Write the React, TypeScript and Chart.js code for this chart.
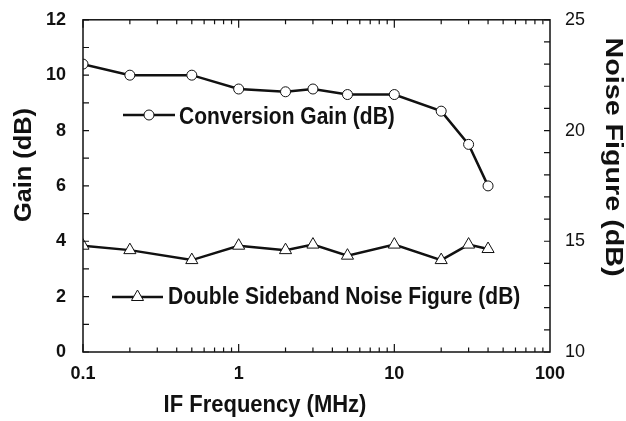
import React, { useEffect, useRef } from 'react';
import { Chart, registerables } from 'chart.js';

Chart.register(...registerables);

// ---- data ----
const freqsMHz = [0.1, 0.2, 0.5, 1, 2, 3, 5, 10, 20, 30, 40];
const conversionGainDb = [10.4, 10.0, 10.0, 9.5, 9.4, 9.5, 9.3, 9.3, 8.7, 7.5, 6.0];
const noiseFigureDb = [14.8, 14.6, 14.15, 14.8, 14.6, 14.85, 14.35, 14.85, 14.15, 14.85, 14.65];
const xTickValues = [0.1, 1, 10, 100];
const gainTickValues = [0, 2, 4, 6, 8, 10, 12];
const nfTickValues = [10, 15, 20, 25];
const gainLabel = 'Conversion Gain (dB)';
const nfLabel = 'Double Sideband Noise Figure (dB)';
const xTitle = 'IF Frequency (MHz)';
const yTitle = 'Gain (dB)';
const y1Title = 'Noise Figure (dB)';

const FONT = '"Liberation Sans", Arial, Helvetica, sans-serif';
const INK = '#111';

const decorPlugin = {
  id: 'decor',
  afterDraw(chart: any) {
    const { ctx, chartArea: a, scales } = chart;
    const xs = scales.x, ys = scales.y, y1 = scales.y1;
    ctx.save();
    // frame
    ctx.strokeStyle = INK;
    ctx.lineWidth = 1.5;
    ctx.strokeRect(a.left, a.top, a.right - a.left, a.bottom - a.top);

    // inward tick marks
    ctx.lineWidth = 1.2;
    ctx.beginPath();
    for (let d = 0; d < xTickValues.length - 1; d++) {
      const dec = xTickValues[d];
      for (let m = 1; m <= 9; m++) {
        const v = dec * m;
        const px = xs.getPixelForValue(v);
        const L = m === 1 ? 8 : 4.5;
        ctx.moveTo(px, a.bottom);
        ctx.lineTo(px, a.bottom - L);
        ctx.moveTo(px, a.top);
        ctx.lineTo(px, a.top + L);
      }
    }
    for (let v = ys.min; v <= ys.max; v += 1) {
      const py = ys.getPixelForValue(v);
      ctx.moveTo(a.left, py);
      ctx.lineTo(a.left + 6, py);
    }
    for (let v = y1.min; v <= y1.max; v += 1) {
      const py = y1.getPixelForValue(v);
      ctx.moveTo(a.right, py);
      ctx.lineTo(a.right - 6, py);
    }
    ctx.stroke();

    // axis titles
    ctx.fillStyle = INK;
    ctx.font = `bold 22px ${FONT}`;
    ctx.textAlign = 'center';
    ctx.textBaseline = 'alphabetic';
    ctx.save();
    ctx.translate(265, 412);
    ctx.scale(1, 1.1);
    ctx.fillText(xTitle, 0, 0);
    ctx.restore();

    // left title (rotated -90)
    ctx.save();
    ctx.translate(25, 165);
    ctx.rotate(-Math.PI / 2);
    let w = ctx.measureText(yTitle).width;
    ctx.scale(114 / w, 1.05);
    ctx.textBaseline = 'middle';
    ctx.fillText(yTitle, 0, 0);
    ctx.restore();

    // right title (rotated +90)
    ctx.save();
    ctx.translate(612, 157);
    ctx.rotate(Math.PI / 2);
    w = ctx.measureText(y1Title).width;
    ctx.scale(239 / w, 1.05);
    ctx.textBaseline = 'middle';
    ctx.fillText(y1Title, 0, 0);
    ctx.restore();

    // legends
    const drawLegend = (x1: number, x2: number, y: number, marker: string, text: string, tx: number, ty: number) => {
      ctx.strokeStyle = INK;
      ctx.lineWidth = 2.5;
      ctx.beginPath();
      ctx.moveTo(x1, y);
      ctx.lineTo(x2, y);
      ctx.stroke();
      const cx = (x1 + x2) / 2;
      ctx.lineWidth = 1;
      ctx.fillStyle = '#fff';
      ctx.beginPath();
      if (marker === 'circle') {
        ctx.arc(cx, y, 5, 0, Math.PI * 2);
      } else {
        const r = 7;
        ctx.moveTo(cx, y - r);
        ctx.lineTo(cx + r * Math.sin((2 * Math.PI) / 3), y - r * Math.cos((2 * Math.PI) / 3));
        ctx.lineTo(cx + r * Math.sin((4 * Math.PI) / 3), y - r * Math.cos((4 * Math.PI) / 3));
        ctx.closePath();
      }
      ctx.fill();
      ctx.stroke();
      ctx.fillStyle = INK;
      ctx.font = `bold 21px ${FONT}`;
      ctx.textAlign = 'left';
      ctx.textBaseline = 'alphabetic';
      ctx.save();
      ctx.translate(tx, ty);
      ctx.scale(1, 1.12);
      ctx.fillText(text, 0, 0);
      ctx.restore();
    };
    drawLegend(123, 175, 115, 'circle', gainLabel, 179, 123.5);
    drawLegend(112, 163, 297, 'triangle', nfLabel, 168, 304);

    ctx.restore();
  },
};

export default function App() {
  const ref = useRef<HTMLCanvasElement | null>(null);

  useEffect(() => {
    document.body.style.margin = '0';
    const canvas = ref.current;
    if (!canvas) return;
    const chart = new Chart(canvas, {
      type: 'line',
      data: {
        datasets: [
          {
            label: gainLabel,
            data: freqsMHz.map((f, i) => ({ x: f, y: conversionGainDb[i] })),
            yAxisID: 'y',
            borderColor: INK,
            borderWidth: 2.5,
            pointStyle: 'circle',
            pointRadius: 5,
            pointBorderWidth: 1,
            pointBackgroundColor: '#fff',
            pointBorderColor: INK,
            tension: 0,
          },
          {
            label: nfLabel,
            data: freqsMHz.map((f, i) => ({ x: f, y: noiseFigureDb[i] })),
            yAxisID: 'y1',
            borderColor: INK,
            borderWidth: 2.5,
            pointStyle: 'triangle',
            pointRadius: 7,
            pointBorderWidth: 1,
            pointBackgroundColor: '#fff',
            pointBorderColor: INK,
            tension: 0,
          },
        ],
      },
      options: {
        responsive: false,
        animation: false,
        devicePixelRatio: 1,
        layout: { padding: { top: 18, left: 0, right: 0, bottom: 0 } },
        plugins: {
          legend: { display: false },
          tooltip: { enabled: false },
        },
        scales: {
          x: {
            type: 'logarithmic',
            min: 0.1,
            max: 100,
            grid: { display: false },
            border: { display: false },
            afterBuildTicks: (scale: any) => {
              scale.ticks = xTickValues.map((v) => ({ value: v }));
            },
            afterFit: (scale: any) => {
              scale.height = 69;
            },
            ticks: {
              autoSkip: false,
              maxRotation: 0,
              minRotation: 0,
              padding: 3,
              color: INK,
              font: { family: FONT, size: 18, weight: 'bold' },
              callback: (v: any) => String(v),
            },
          },
          y: {
            position: 'left',
            min: 0,
            max: 12,
            grid: { display: false },
            border: { display: false },
            afterBuildTicks: (scale: any) => {
              scale.ticks = gainTickValues.map((v) => ({ value: v }));
            },
            afterFit: (scale: any) => {
              scale.width = 83;
            },
            ticks: {
              padding: 9,
              color: INK,
              font: { family: FONT, size: 18, weight: 'bold' },
            },
          },
          y1: {
            position: 'right',
            min: 10,
            max: 25,
            grid: { display: false },
            border: { display: false },
            afterBuildTicks: (scale: any) => {
              scale.ticks = nfTickValues.map((v) => ({ value: v }));
            },
            afterFit: (scale: any) => {
              scale.width = 76;
            },
            ticks: {
              padding: 7,
              color: INK,
              font: { family: FONT, size: 18, weight: 'normal' },
            },
          },
        },
      },
      plugins: [decorPlugin],
    } as any);
    return () => chart.destroy();
  }, []);

  return (
    <div style={{ position: 'fixed', left: 0, top: 0, width: 626, height: 421, background: '#fff' }}>
      <canvas ref={ref} width={626} height={421} style={{ display: 'block' }} />
    </div>
  );
}
